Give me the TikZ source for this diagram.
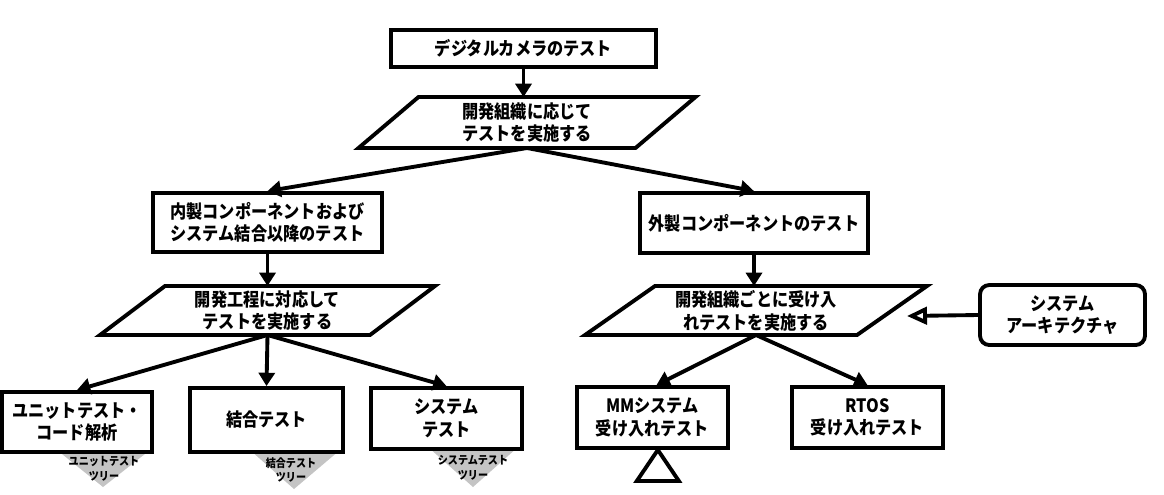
\documentclass[tikz,border=0pt]{standalone}
\usepackage{fontspec}
\setmainfont{Noto Sans CJK JP}[BoldFeatures={FakeStretch=0.88}]
\usetikzlibrary{arrows.meta}
\definecolor{treegray}{RGB}{196,196,196}
\tikzset{
  box/.style={draw, line width=2.9pt, fill=white, inner sep=0pt, align=center,
    font=\bfseries\fontsize{13.8pt}{17pt}\selectfont},
  rbox/.style={box, rounded corners=7pt},
  plabel/.style={inner sep=0pt, outer sep=0pt, align=center,
    font=\bfseries\fontsize{13.8pt}{17pt}\selectfont},
  pline/.style={draw, line width=2.9pt, line join=miter},
  arr/.style={line width=2.9pt, -{Triangle[length=10pt,width=12pt]}},
  openarr/.style={line width=2.9pt, -{Triangle[open,length=15pt,width=13pt,fill=white]}},
  tree/.style={fill=treegray},
  treelabel/.style={inner sep=0pt, align=center,
    font=\bfseries\fontsize{8.6pt}{11pt}\selectfont},
}
\begin{document}
\begin{tikzpicture}[x=0.75pt,y=-0.75pt]
\useasboundingbox[fill=white] (0,0) rectangle (1164,494);

% gray tree triangles (behind boxes)
\fill[tree] (57,450) -- (150,450) -- (103,487) -- cycle;
\fill[tree] (250,450) -- (340,450) -- (294,489) -- cycle;
\fill[tree] (428,447) -- (518,447) -- (473,487) -- cycle;

% boxes
\node[box, minimum width=198.75pt, minimum height=27.75pt] (T) at (523.5,48.5) {デジタルカメラのテスト};
\node[plabel, minimum width=252.75pt, minimum height=38.25pt] (P1) at (527,122.5) {開発組織に応じて\\テストを実施する};
\draw[pline] ([xshift=45pt]P1.north west) -- (P1.north east) -- ([xshift=-45pt]P1.south east) -- (P1.south west) -- cycle;

\node[box, minimum width=171.75pt, minimum height=44.25pt] (L) at (267.5,222.5) {内製コンポーネントおよび\\システム結合以降のテスト};
\node[box, minimum width=171pt, minimum height=45pt] (R) at (754,223) {外製コンポーネントのテスト};

\node[plabel, minimum width=251.25pt, minimum height=36.75pt] (P2) at (267.5,310.5) {開発工程に対応して\\テストを実施する};
\draw[pline] ([xshift=48.75pt]P2.north west) -- (P2.north east) -- ([xshift=-48.75pt]P2.south east) -- (P2.south west) -- cycle;

\node[plabel, minimum width=256.5pt, minimum height=36.75pt] (P3) at (756,310.5) {開発組織ごとに受け入\\れテストを実施する};
\draw[pline] ([xshift=52.5pt]P3.north west) -- (P3.north east) -- ([xshift=-52.5pt]P3.south east) -- (P3.south west) -- cycle;

\node[rbox, minimum width=123.75pt, minimum height=45pt] (SA) at (1062.5,315) {システム\\アーキテクチャ};

\node[box, minimum width=112.5pt, minimum height=45pt] (U) at (77,422) {ユニットテスト・\\コード解析};
\node[box, minimum width=114.75pt, minimum height=48pt] (K) at (266.5,420) {結合テスト};
\node[box, minimum width=113.25pt, minimum height=45.75pt] (S) at (446.5,418.5) {システム\\テスト};
\node[box, minimum width=113.25pt, minimum height=45.75pt] (MM) at (652.5,417.5) {MMシステム\\受け入れテスト};
\node[box, minimum width=113.25pt, minimum height=45.75pt] (RT) at (867.5,417.5) {RTOS\\受け入れテスト};

% tree labels
\node[treelabel] (Ut) at (104,469) {ユニットテスト\\ツリー};
\node[treelabel] (Kt) at (291,470) {結合テスト\\ツリー};
\node[treelabel] (St) at (473,468) {システムテスト\\ツリー};

% open triangle under MM
\draw[line width=2.9pt, line join=miter, fill=white] ([xshift=4pt]MM.south) -- ++(-21,31) -- ++(42,0) -- cycle;

% connectors
\draw[arr] (T.south) -- (T.south |- P1.north);
\draw[arr] (P1.south) -- (L.north);
\draw[arr] (P1.south) -- (R.north);
\draw[arr] (L.south) -- (L.south |- P2.north);
\draw[arr] (R.south) -- (R.south |- P3.north);
\draw[arr] (P2.south) -- (U.north);
\draw[arr] (P2.south) -- (K.north);
\draw[arr] (P2.south) -- (S.north);
\draw[arr] (P3.south) -- ([xshift=3pt]MM.north);
\draw[arr] (P3.south) -- (RT.north);
\coordinate (SAtip) at (907,316);
\draw[openarr] (SA.west) -- (SAtip);
\end{tikzpicture}
\end{document}
